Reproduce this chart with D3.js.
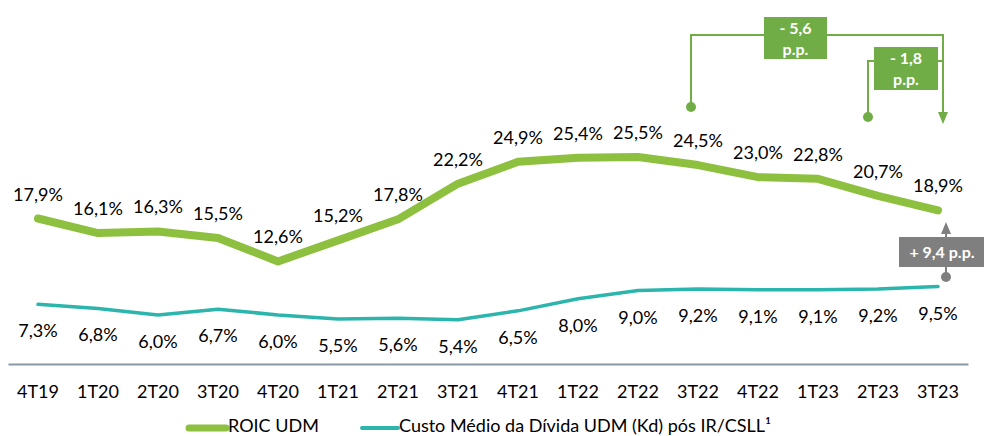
<!DOCTYPE html>
<html>
<head>
<meta charset="utf-8">
<script src="https://cdn.jsdelivr.net/npm/d3@7"></script>
<style>
  body { margin: 0; background: #fff; }
  svg text { font-family: Lato, "Open Sans", sans-serif; }
</style>
</head>
<body>
<div id="chart"></div>
<script>
// Quarters on the x axis
let quarters = ["4T19", "1T20", "2T20", "3T20", "4T20", "1T21", "2T21", "3T21",
  "4T21", "1T22", "2T22", "3T22", "4T22", "1T23", "2T23", "3T23"];

// ROIC UDM (%)
let roic = [17.9, 16.1, 16.3, 15.5, 12.6, 15.2, 17.8, 22.2, 24.9, 25.4, 25.5, 24.5, 23.0, 22.8, 20.7, 18.9];

// Custo Medio da Divida UDM (Kd) pos IR/CSLL (%)
let kd = [7.3, 6.8, 6.0, 6.7, 6.0, 5.5, 5.6, 5.4, 6.5, 8.0, 9.0, 9.2, 9.1, 9.1, 9.2, 9.5];

// Annotation texts
let seriesNames = ["ROIC UDM", "Custo Médio da Dívida UDM (Kd) pós IR/CSLL¹"];
let deltaBig = ["- 5,6", "p.p."];
let deltaSmall = ["- 1,8", "p.p."];
let spreadText = "+ 9,4 p.p.";

let svgWidth = 984, svgHeight = 436;
let green = "#8dc03f", teal = "#2bb5ad", annGreen = "#70ad47", annGray = "#7f7f7f";

let svg = d3.select("#chart").append("svg")
  .attr("width", svgWidth)
  .attr("height", svgHeight);

let fmt = v => d3.format(".1f")(v).replace(".", ",") + "%";

//Scales
let x = d3.scaleBand().domain(quarters).range([8, 968]);
let cx = q => x(q) + x.bandwidth() / 2;
let y = d3.scaleLinear().domain([0, 30]).range([363.5, 120.5]);

//Axis
let axis = svg.append("g")
  .attr("transform", "translate(0, 364)")
  .call(d3.axisBottom(x).tickSize(0).tickSizeOuter(0));
axis.select(".domain").attr("stroke", "#8a98a6").attr("stroke-width", 2);
axis.selectAll("text")
  .attr("y", 34).attr("dy", 0)
  .attr("fill", "#000")
  .style("font-size", "18px")
  .style("font-family", "Lato, sans-serif");

//Lines
let roicData = quarters.map((q, i) => ({ q: q, v: roic[i] }));
let kdData = quarters.map((q, i) => ({ q: q, v: kd[i] }));
let line = d3.line().x(d => cx(d.q)).y(d => y(d.v));

svg.append("path").datum(roicData)
  .attr("d", line)
  .attr("fill", "none").attr("stroke", green)
  .attr("stroke-width", 8).attr("stroke-linejoin", "round").attr("stroke-linecap", "round");

svg.append("path").datum(kdData)
  .attr("d", line)
  .attr("fill", "none").attr("stroke", teal)
  .attr("stroke-width", 3.5).attr("stroke-linejoin", "round").attr("stroke-linecap", "round");

//Labels
svg.selectAll(".roicLabel").data(roicData).enter().append("text")
  .attr("class", "roicLabel")
  .attr("x", d => cx(d.q)).attr("y", d => y(d.v) - 18)
  .attr("text-anchor", "middle").style("font-size", "18px").attr("fill", "#000")
  .text(d => fmt(d.v));

svg.selectAll(".kdLabel").data(kdData).enter().append("text")
  .attr("class", "kdLabel")
  .attr("x", d => cx(d.q)).attr("y", d => y(d.v) + 33)
  .attr("text-anchor", "middle").style("font-size", "18px").attr("fill", "#000")
  .text(d => fmt(d.v));

//Annotation: - 5,6 p.p. (3T22 -> 3T23)
let ann = svg.append("g");
let xa = cx("3T22") - 7, xb = cx("2T23") - 10, xe = cx("3T23") + 5;
ann.append("path")
  .attr("d", `M${xa},107 V35 H${xe} V114`)
  .attr("fill", "none").attr("stroke", annGreen).attr("stroke-width", 2);
ann.append("path")
  .attr("d", `M${xb},117 V61 H${xe}`)
  .attr("fill", "none").attr("stroke", annGreen).attr("stroke-width", 2);
ann.append("path")
  .attr("d", `M${xe - 5},112 L${xe + 5},112 L${xe},124 Z`)
  .attr("fill", annGreen);
ann.append("circle").attr("cx", xa).attr("cy", 107).attr("r", 5).attr("fill", annGreen);
ann.append("circle").attr("cx", xb).attr("cy", 117).attr("r", 5).attr("fill", annGreen);

function box(g, x0, y0, w, h, fill, lines) {
  g.append("rect").attr("x", x0).attr("y", y0).attr("width", w).attr("height", h).attr("fill", fill);
  let lh = h / lines.length;
  lines.forEach((t, i) => {
    g.append("text")
      .attr("x", x0 + w / 2).attr("y", y0 + lh * i + lh / 2 + 6)
      .attr("text-anchor", "middle").attr("fill", "#fff")
      .style("font-size", "16px").style("font-weight", "bold")
      .text(t);
  });
}
box(ann, 764, 17, 63, 42, annGreen, deltaBig);
box(ann, 874, 47, 64, 43, annGreen, deltaSmall);

//Annotation: + 9,4 p.p. spread
let xg = cx("3T23") + 8;
ann.append("line").attr("x1", xg).attr("x2", xg).attr("y1", 277).attr("y2", 230)
  .attr("stroke", annGray).attr("stroke-width", 2);
ann.append("path").attr("d", `M${xg - 5},234 L${xg + 5},234 L${xg},222 Z`).attr("fill", annGray);
ann.append("circle").attr("cx", xg).attr("cy", 277).attr("r", 5).attr("fill", annGray);
box(ann, 899, 237, 86, 30, annGray, [spreadText]);

//Legend
let legend = svg.append("g");
legend.append("line").attr("x1", 189).attr("x2", 226).attr("y1", 428).attr("y2", 428)
  .attr("stroke", green).attr("stroke-width", 7).attr("stroke-linecap", "round");
legend.append("text").attr("x", 228).attr("y", 432).style("font-size", "18px").text(seriesNames[0]);
legend.append("line").attr("x1", 362).attr("x2", 398).attr("y1", 428).attr("y2", 428)
  .attr("stroke", teal).attr("stroke-width", 4).attr("stroke-linecap", "round");
legend.append("text").attr("x", 399).attr("y", 432).style("font-size", "18px").text(seriesNames[1]);
</script>
</body>
</html>
